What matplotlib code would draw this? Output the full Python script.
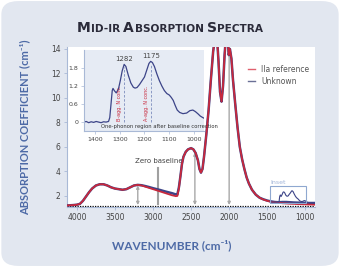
import matplotlib
matplotlib.use("Agg")
import matplotlib.pyplot as plt
from matplotlib.patches import FancyBboxPatch, Rectangle
from matplotlib.offsetbox import TextArea, HPacker, AnchoredOffsetbox

# main spectrum (wavenumber in cm-1, absorption coefficient in cm-1)
wn = [4130, 4050, 4000, 3960, 3920, 3880, 3840, 3800, 3750, 3700, 3650, 3600,
      3550, 3500, 3450, 3400, 3350, 3300, 3250, 3200, 3150, 3100, 3050, 3000,
      2950, 2900, 2850, 2800, 2750, 2700, 2680, 2660, 2640, 2620, 2600, 2570,
      2540, 2500, 2470, 2440, 2410, 2390, 2370, 2350, 2330, 2300, 2270, 2240,
      2210, 2180, 2160, 2140, 2120, 2100, 2080, 2060, 2040, 2020, 2005, 1990,
      1970, 1950, 1920, 1890, 1860, 1830, 1800, 1770, 1740, 1700, 1650, 1600,
      1550, 1500, 1450, 1400, 1350, 1300, 1250, 1200, 1150, 1100, 1050, 1000,
      950, 900, 870]
ref = [1.22, 1.25, 1.28, 1.35, 1.6, 1.95, 2.3, 2.6, 2.85, 2.95, 2.95, 2.85,
       2.7, 2.6, 2.55, 2.5, 2.55, 2.7, 2.85, 2.9, 2.85, 2.75, 2.65, 2.55,
       2.45, 2.35, 2.25, 2.15, 2.05, 1.98, 2.0, 2.6, 3.6, 4.6, 5.2, 5.6,
       5.8, 5.9, 5.8, 5.5, 4.9, 4.2, 3.9, 4.2, 5.2, 7.0, 9.0, 11.5,
       13.8, 15.2, 15.0, 13.0, 10.5, 9.7, 11.0, 13.5, 15.2, 15.0, 13.5, 14.0,
       13.2, 11.5, 9.5, 7.6, 6.0, 5.0, 4.2, 3.5, 3.0, 2.5, 2.1, 1.85,
       1.7, 1.6, 1.52, 1.47, 1.43, 1.4, 1.38, 1.36, 1.35, 1.33, 1.32, 1.31,
       1.3, 1.29, 1.28]
unk = [1.22, 1.25, 1.28, 1.35, 1.6, 1.95, 2.3, 2.6, 2.85, 2.95, 2.95, 2.85,
       2.7, 2.6, 2.55, 2.5, 2.55, 2.7, 2.85, 2.9, 2.87, 2.8, 2.72, 2.63,
       2.55, 2.47, 2.38, 2.3, 2.22, 2.12, 2.12, 2.7, 3.6, 4.6, 5.2, 5.6,
       5.8, 5.9, 5.8, 5.5, 4.9, 4.2, 3.9, 4.2, 5.2, 7.0, 9.0, 11.5,
       13.8, 15.2, 15.0, 13.0, 10.5, 9.7, 11.0, 13.5, 15.2, 15.0, 13.5, 14.0,
       13.2, 11.5, 9.5, 7.6, 6.0, 5.0, 4.2, 3.5, 3.0, 2.5, 2.1, 1.85,
       1.72, 1.62, 1.55, 1.5, 1.48, 1.5, 1.5, 1.48, 1.46, 1.45, 1.44, 1.43,
       1.42, 1.42, 1.42]

# unknown in the inset window, drawn on the main axes
win_wn = [1460, 1440, 1420, 1400, 1380, 1360, 1345, 1336, 1328, 1318, 1305,
          1292, 1282, 1270, 1255, 1240, 1225, 1212, 1195, 1180, 1172, 1160,
          1145, 1130, 1115, 1100, 1085, 1070, 1050, 1030, 1015, 1000, 985,
          970, 955, 940, 920, 900, 880, 870]
win_unk = [1.52, 1.5, 1.5, 1.49, 1.5, 1.49, 1.5, 1.95, 2.08, 1.95, 2.1,
           2.3, 2.33, 2.25, 2.05, 1.97, 2.0, 2.12, 2.25, 2.4, 2.42, 2.35,
           2.15, 1.98, 1.85, 1.78, 1.68, 1.58, 1.54, 1.56, 1.62, 1.6, 1.52,
           1.47, 1.45, 1.44, 1.43, 1.42, 1.42, 1.42]

# inset: one-phonon region after baseline correction
ins_wn = [1444, 1435, 1425, 1415, 1405, 1395, 1385, 1375, 1365, 1355, 1345,
          1340, 1335, 1330, 1327, 1322, 1314, 1305, 1297, 1290, 1282, 1275,
          1265, 1255, 1245, 1238, 1230, 1220, 1212, 1200, 1190, 1182, 1175,
          1168, 1160, 1150, 1140, 1130, 1120, 1110, 1100, 1092, 1084, 1076,
          1068, 1058, 1045, 1030, 1017, 1005, 995, 985, 975, 965, 960]
ins_y = [0.0, 0.02, -0.02, 0.01, -0.01, 0.02, 0.0, -0.02, 0.01, 0.0, 0.02,
         0.15, 0.6, 1.05, 1.12, 1.05, 0.97, 1.1, 1.4, 1.7, 1.92, 1.85,
         1.55, 1.3, 1.16, 1.13, 1.15, 1.25, 1.35, 1.5, 1.75, 1.95, 2.02,
         1.98, 1.85, 1.6, 1.38, 1.2, 1.05, 0.95, 0.9, 0.82, 0.72, 0.55,
         0.4, 0.32, 0.28, 0.3, 0.38, 0.4, 0.35, 0.28, 0.2, 0.15, 0.13]
ins_peaks = [1282, 1175]
ins_peak_y = [1.92, 2.02]
ins_peak_txt = ["B-agg. N conc.", "A-agg. N conc."]

x_ticks = [4000, 3500, 3000, 2500, 2000, 1500, 1000]
y_ticks = [2, 4, 6, 8, 10, 12, 14]
ins_x_ticks = [1400, 1300, 1200, 1100, 1000]
ins_y_ticks = [0, 0.6, 1.2, 1.8]

# arrows from the zero baseline (x, top)
arrows = [(3200, 2.85), (2450, 5.55), (2000, 14.1)]

red = "#c8283c"
blue = "#3c4488"
bg = "#e2e7f0"
lab_col = "#4d6aa6"
spine_col = "#a9b9d6"
txt_col = "#444444"
lab_font = ["Lato", "DejaVu Sans"]

fig = plt.figure(figsize=(3.4, 2.67), dpi=100)
fig.patch.set_facecolor("white")
fig.patches.append(FancyBboxPatch((0.004, 0.004), 0.992, 0.992,
                                  boxstyle="round,pad=0,rounding_size=0.05",
                                  transform=fig.transFigure, fc=bg, ec="none",
                                  zorder=-10))

ax = fig.add_axes([0.197, 0.225, 0.73, 0.599])
ax.set_facecolor("white")
ax.set_xlim(4130, 870)
ax.set_ylim(1.1, 14.16)
for s in ["top", "right"]:
    ax.spines[s].set_visible(False)
for s in ["left", "bottom"]:
    ax.spines[s].set_color(spine_col)
    ax.spines[s].set_linewidth(0.8)
ax.set_xticks(x_ticks)
ax.set_yticks(y_ticks)
ax.tick_params(labelsize=5.5, colors=spine_col, labelcolor=txt_col,
               length=2.5, width=0.6, pad=2)

ax.axhline(1.2, color="black", lw=0.9, ls=(0, (1, 1)), zorder=1)
for xa, ya in arrows:
    ax.annotate("", xy=(xa, ya), xytext=(xa, 1.25),
                arrowprops=dict(arrowstyle="<|-|>", color="#a8a8a8", lw=1.0,
                                mutation_scale=4, shrinkA=0, shrinkB=0))
ax.plot([2930, 2930], [1.3, 4.3], color="#a0a0a0", lw=1.5)
ax.text(2930, 4.6, "Zero baseline", fontsize=5, color=txt_col, ha="center",
        va="bottom")

ax.plot(wn, unk, color=blue, lw=1.8, label="Unknown", zorder=3)
ax.plot(wn, ref, color=red, lw=1.3, label="IIa reference", zorder=4)
ax.plot(win_wn, win_unk, color=blue, lw=0.8, zorder=5)

ax.add_patch(Rectangle((1460, 1.45), -470, 1.35, fill=False,
                       ec="#8fa8d0", lw=0.8, zorder=5))
ax.text(1455, 2.85, "Inset", fontsize=4.5, color="#9fb3d8", ha="left",
        va="bottom")

handles, labels = ax.get_legend_handles_labels()
leg = ax.legend(handles[::-1], labels[::-1], loc="upper left",
                bbox_to_anchor=(0.7, 0.93), frameon=False, fontsize=5.5,
                handlelength=1.0, labelspacing=0.4, labelcolor="#555555")
for ln, c in zip(leg.get_lines(), ["#e0606e", "#6a7096"]):
    ln.set_linewidth(1.0)
    ln.set_color(c)

ax.set_xlabel("WAVENUMBER (cm\u207b\u00b9)", fontsize=8.5, fontweight="bold",
              color=lab_col, fontfamily=lab_font)
ax.xaxis.set_label_coords(0.42, -0.2)
ax.set_ylabel("ABSORPTION COEFFICIENT (cm\u207b\u00b9)", fontsize=8,
              fontweight="bold", color=lab_col, fontfamily=lab_font)
ax.yaxis.set_label_coords(-0.15, 0.5)

# inset axes
ins = fig.add_axes([0.247, 0.509, 0.353, 0.304])
ins.set_facecolor("#e6ebf4")
ins.set_xlim(1444, 960)
ins.set_ylim(-0.3, 2.4)
for s in ["top", "right"]:
    ins.spines[s].set_visible(False)
for s in ["left", "bottom"]:
    ins.spines[s].set_color(spine_col)
    ins.spines[s].set_linewidth(0.8)
ins.set_xticks(ins_x_ticks)
ins.set_yticks(ins_y_ticks)
ins.set_yticklabels(["0", "0.6", "1.2", "1.8"])
ins.tick_params(labelsize=4.5, colors=spine_col, labelcolor=txt_col,
                length=2, width=0.5, pad=2)
ins.plot(ins_wn, ins_y, color=blue, lw=0.9)
for xp, yp, t in zip(ins_peaks, ins_peak_y, ins_peak_txt):
    ins.plot([xp, xp], [0, yp - 0.1], color="#7c8cbc", lw=0.6,
             ls=(0, (3, 2)))
    ins.text(xp, yp + 0.08, str(xp), fontsize=5, color=txt_col,
             ha="center", va="bottom")
    ins.text(xp + 18, 0.05, t, fontsize=3.5, color=red, rotation=90,
             ha="center", va="bottom")
ins.text(1140, -0.14, "One-phonon region after baseline correction",
         fontsize=3.8, color="#333333", ha="center", va="center")

# title in small caps
words = [("M", "ID-IR\u2009"), ("A", "BSORPTION\u2009"), ("S", "PECTRA")]
parts = []
for big, small in words:
    parts.append(TextArea(big, textprops=dict(fontsize=10, fontweight="bold",
                                              color="#2b2b3a",
                                              fontfamily="DejaVu Sans")))
    parts.append(TextArea(small, textprops=dict(fontsize=7.6,
                                                fontweight="bold",
                                                color="#2b2b3a",
                                                fontfamily="DejaVu Sans")))
box = HPacker(children=parts, align="baseline", pad=0, sep=0.5)
fig.add_artist(AnchoredOffsetbox(loc="center", child=box, frameon=False,
                                 bbox_to_anchor=(0.5, 0.895),
                                 bbox_transform=fig.transFigure))

fig.savefig("out.png", dpi=100)
